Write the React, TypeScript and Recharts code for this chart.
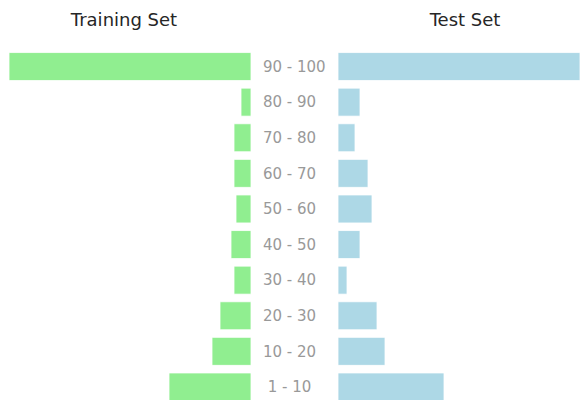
import React from 'react'
import { BarChart, Bar, XAxis, YAxis } from 'recharts'

const ranges = ['90 - 100', '80 - 90', '70 - 80', '60 - 70', '50 - 60', '40 - 50', '30 - 40', '20 - 30', '10 - 20', ' 1 - 10']
const trainingCounts = [242, 10, 17, 17, 15, 20, 17, 31, 39, 82]
const testCounts = [242, 22, 17, 30, 34, 22, 9, 39, 47, 106]

const FONT = '"DejaVu Sans", sans-serif'
const GREEN = '#90ee90'
const BLUE = '#add8e6'

const data = ranges.map((range, i) => ({
  range,
  train: trainingCounts[i],
  test: testCounts[i],
}))

function RangeTick(props: any) {
  const { y, payload } = props
  return (
    <text
      x={12}
      y={y}
      textAnchor="start"
      dominantBaseline="central"
      fill="#999999"
      fontSize={15}
      fontFamily={FONT}
      style={{ whiteSpace: 'pre' }}
    >
      {payload.value}
    </text>
  )
}

export default function App() {
  return (
    <div
      style={{
        position: 'absolute',
        left: 0,
        top: 0,
        width: 580,
        height: 400,
        overflow: 'hidden',
        background: '#fff',
      }}
    >
      <svg width={580} height={40} style={{ position: 'absolute', left: 0, top: 0 }}>
        <text x={124} y={26} textAnchor="middle" fontSize={18} fontFamily={FONT} fill="#262626">
          Training Set
        </text>
        <text x={465} y={26} textAnchor="middle" fontSize={18} fontFamily={FONT} fill="#262626">
          Test Set
        </text>
      </svg>

      <div style={{ position: 'absolute', left: 0, top: 0 }}>
        <BarChart
          width={251}
          height={405}
          data={data}
          layout="vertical"
          margin={{ top: 49, right: 0, bottom: 0, left: 9 }}
          barCategoryGap="10%"
        >
          <XAxis type="number" reversed hide domain={[0, 'dataMax']} />
          <YAxis type="category" dataKey="range" hide />
          <Bar dataKey="train" fill={GREEN} stroke="#ffffff" strokeWidth={0.8} isAnimationActive={false} />
        </BarChart>
      </div>

      <div style={{ position: 'absolute', left: 251, top: 0 }}>
        <BarChart
          width={329}
          height={405}
          data={data}
          layout="vertical"
          margin={{ top: 49, right: 0, bottom: 0, left: 0 }}
          barCategoryGap="10%"
        >
          <XAxis type="number" hide domain={[0, 'dataMax']} />
          <YAxis
            type="category"
            dataKey="range"
            width={87}
            axisLine={false}
            tickLine={false}
            tick={<RangeTick />}
            interval={0}
          />
          <Bar dataKey="test" fill={BLUE} stroke="#ffffff" strokeWidth={0.8} isAnimationActive={false} />
        </BarChart>
      </div>
    </div>
  )
}
